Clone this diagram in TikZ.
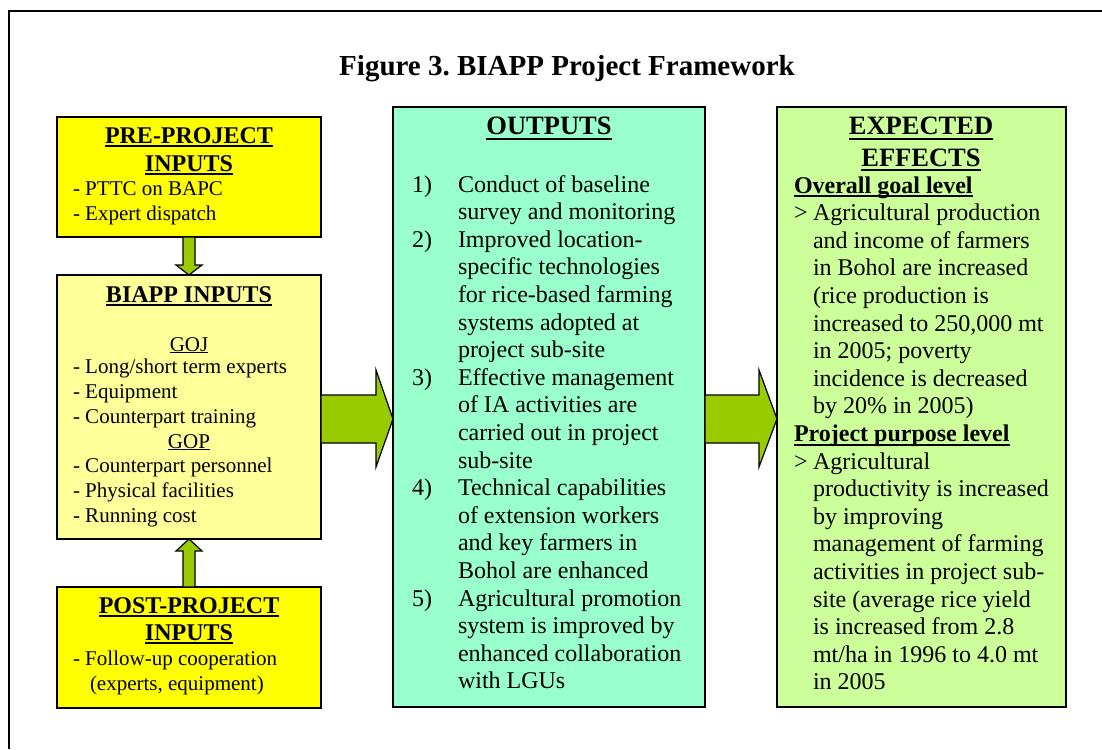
\documentclass[tikz,border=0pt]{standalone}
\usepackage{fontspec}
\setmainfont{Liberation Serif}
\usetikzlibrary{calc}
\frenchspacing
\definecolor{preyellow}{HTML}{FFFF00}
\definecolor{inyellow}{HTML}{FFFF99}
\definecolor{outgreen}{HTML}{99FFCC}
\definecolor{effgreen}{HTML}{CCFF99}
\definecolor{arrowgreen}{HTML}{99CC00}
% underlines: thick for bold headings, thin for regular text
\newcommand\ulBig[1]{\setbox0=\hbox{#1}\rlap{\rule[-5pt]{\wd0}{2.4pt}}\box0}
\newcommand\ulB[1]{\setbox0=\hbox{#1}\rlap{\rule[-4.3pt]{\wd0}{2pt}}\box0}
\newcommand\ulR[1]{\setbox0=\hbox{#1}\rlap{\rule[-2.4pt]{\wd0}{1.2pt}}\box0}
\begin{document}
\begin{tikzpicture}[x=1pt,y=-1pt,
  box/.style={draw=black, line width=1.6pt, inner sep=0, outer sep=0, anchor=north west},
  blk/.style={draw=black, line width=1.2pt, fill=arrowgreen, line join=miter},
  ln/.style={anchor=base west, inner sep=0, outer sep=0},
  lnc/.style={anchor=base, inner sep=0, outer sep=0},
  fl/.style={font=\fontsize{21}{25}\selectfont},
  fr/.style={font=\fontsize{24}{27.6}\selectfont},
  hl/.style={font=\fontsize{24}{28}\selectfont\bfseries},
  hr/.style={font=\fontsize{26.5}{30}\selectfont\bfseries}]
\useasboundingbox (0,0) rectangle (1102,749);
\fill[white] (0,0) rectangle (1102,749);
% frame
\draw[line width=1.8pt] (9,749) -- (9,11) -- (1102,11);
% title
\node[lnc, font=\fontsize{29}{33}\selectfont\bfseries] (title) at (567,76) {Figure 3. BIAPP Project Framework};

% boxes
\node[box, fill=preyellow, minimum width=264, minimum height=120] (pre) at (57,117) {};
\node[box, fill=inyellow, minimum width=264, minimum height=264] (biapp) at (57,275) {};
\node[box, fill=preyellow, minimum width=264, minimum height=121] (post) at (57,587) {};
\node[box, fill=outgreen, minimum width=312, minimum height=600] (outputs) at (393,107) {};
\node[box, fill=effgreen, minimum width=289, minimum height=600] (effects) at (777,107) {};

% block arrows
\draw[blk] ($(pre.south)+(-6,0)$) -- ($(biapp.north)+(-6,-10)$) -- ($(biapp.north)+(-13,-10)$)
  -- (biapp.north) -- ($(biapp.north)+(13,-10)$) -- ($(biapp.north)+(6,-10)$) -- ($(pre.south)+(6,0)$) -- cycle;
\draw[blk] ($(post.north)+(-6,0)$) -- ($(biapp.south)+(-6,12)$) -- ($(biapp.south)+(-13,12)$)
  -- (biapp.south) -- ($(biapp.south)+(13,12)$) -- ($(biapp.south)+(6,12)$) -- ($(post.north)+(6,0)$) -- cycle;
\coordinate (a1) at ($(biapp.east)+(0,12)$);
\coordinate (t1) at (outputs.west |- a1);
\draw[blk] ($(a1)+(0,-24)$) -- ($(t1)+(-17,-24)$) -- ($(t1)+(-17,-49)$) -- (t1)
  -- ($(t1)+(-17,48)$) -- ($(t1)+(-17,24)$) -- ($(a1)+(0,24)$) -- cycle;
\coordinate (a2) at (outputs.east |- a1);
\coordinate (t2) at (effects.west |- a1);
\draw[blk] ($(a2)+(0,-24)$) -- ($(t2)+(-18,-24)$) -- ($(t2)+(-18,-49)$) -- (t2)
  -- ($(t2)+(-18,48)$) -- ($(t2)+(-18,24)$) -- ($(a2)+(0,24)$) -- cycle;

% pre-project inputs
\node[lnc, hl] (preh1) at (189,143) {\ulB{PRE-PROJECT}};
\node[lnc, hl] (preh2) at (189,171) {\ulB{INPUTS}};
\node[ln, fl] (pre1) at (73,195) {- PTTC on BAPC};
\node[ln, fl] (pre2) at (73,220) {- Expert dispatch};

% BIAPP inputs
\node[lnc, hl] (biah) at (189,302) {\ulB{BIAPP INPUTS}};
\node[lnc, fl] (goj) at (189,351) {\ulR{GOJ}};
\node[ln, fl] (bi1) at (73,373) {- Long/short term experts};
\node[ln, fl] (bi2) at (73,398) {- Equipment};
\node[ln, fl] (bi3) at (73,423) {- Counterpart training};
\node[lnc, fl] (gop) at (189,448) {\ulR{GOP}};
\node[ln, fl] (bi4) at (73,472) {- Counterpart personnel};
\node[ln, fl] (bi5) at (73,497) {- Physical facilities};
\node[ln, fl] (bi6) at (73,522) {- Running cost};

% post-project inputs
\node[lnc, hl] (posth1) at (189,613) {\ulB{POST-PROJECT}};
\node[lnc, hl] (posth2) at (189,640) {\ulB{INPUTS}};
\node[ln, fl] (post1) at (73,665) {- Follow-up cooperation};
\node[ln, fl] (post2) at (90,690) {(experts, equipment)};

% outputs
\node[lnc, hr] (outh) at (549,135) {\ulBig{OUTPUTS}};
\foreach \t [count=\i] in {Conduct of baseline, survey and monitoring, Improved location-,
  specific technologies, for rice-based farming, systems adopted at, project sub-site,
  Effective management, of IA activities are, carried out in project, sub-site,
  Technical capabilities, of extension workers, and key farmers in, Bohol are enhanced,
  Agricultural promotion, system is improved by, enhanced collaboration, with LGUs}
  \node[ln, fr] (out\i) at (458,{192+27.6*(\i-1)}) {\t};
\foreach \n/\k in {1/1,2/3,3/8,4/12,5/16}
  \node[ln, fr] (num\n) at (412,{192+27.6*(\k-1)}) {\n)};

% expected effects
\node[lnc, hr] (effh1) at (921,135) {\ulBig{EXPECTED}};
\node[lnc, hr] (effh2) at (921,166) {\ulBig{EFFECTS}};
\node[ln, fr, font=\fontsize{24}{27.6}\selectfont\bfseries] (goal) at (794,193) {\ulB{Overall goal level}};
\node[ln, fr] (gt1) at (794,{193+27.6}) {>};
\foreach \t [count=\i from 2] in {Agricultural production, and income of farmers,
  in Bohol are increased, {(rice production is}, {increased to 250,000 mt},
  in 2005; poverty, incidence is decreased, {by 20\% in 2005)}}
  \node[ln, fr] (eff\i) at (813,{193+27.6*(\i-1)}) {\t};
\node[ln, fr, font=\fontsize{24}{27.6}\selectfont\bfseries] (purpose) at (794,{193+27.6*9}) {\ulB{Project purpose level}};
\node[ln, fr] (gt2) at (794,{193+27.6*10}) {>};
\foreach \t [count=\i from 11] in {Agricultural, productivity is increased, by improving,
  management of farming, activities in project sub-, {site (average rice yield},
  is increased from 2.8, mt/ha in 1996 to 4.0 mt, in 2005}
  \node[ln, fr] (eff\i) at (813,{193+27.6*(\i-1)}) {\t};
\end{tikzpicture}
\end{document}
